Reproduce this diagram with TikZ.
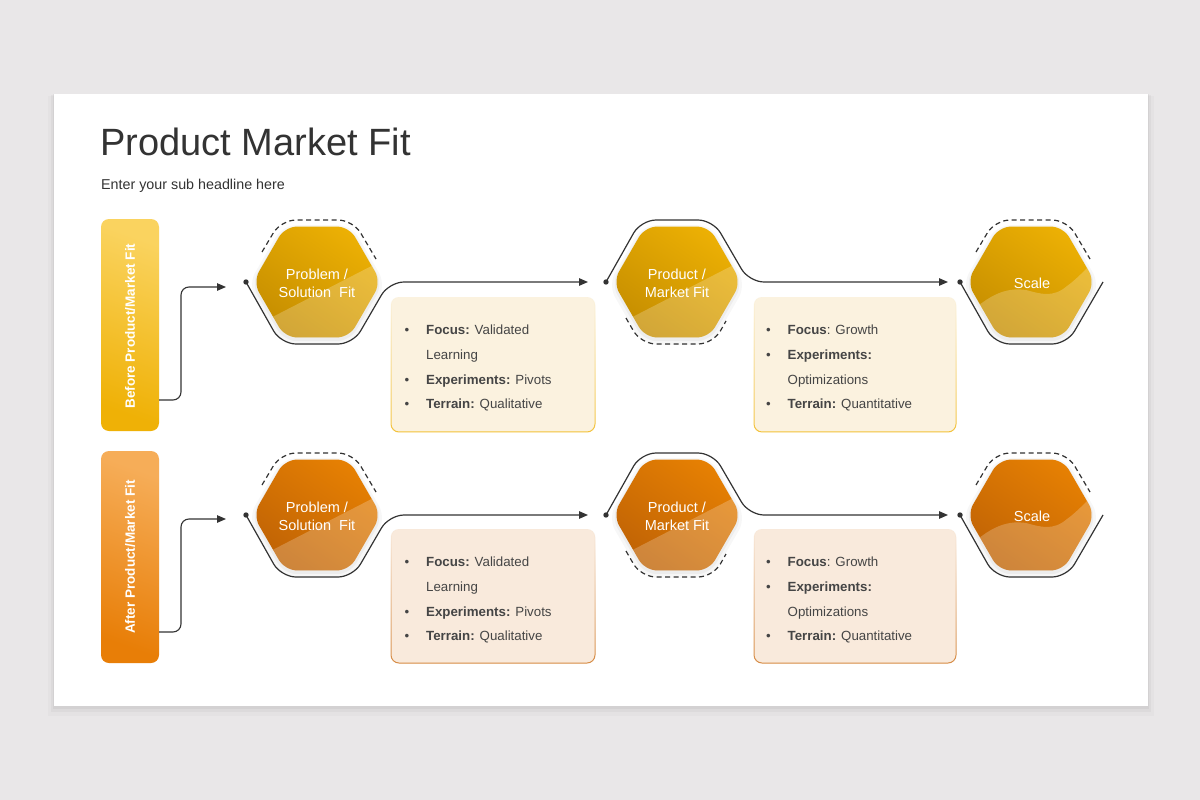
\documentclass[tikz,border=0pt]{standalone}
\usepackage{fontspec}
\setmainfont{Liberation Sans}
\usepackage{xcolor}
\usetikzlibrary{calc}
\usetikzlibrary{positioning}
\usetikzlibrary{arrows.meta}
\usetikzlibrary{fadings}

\definecolor{bggray}{HTML}{E9E7E8}
\definecolor{ink}{HTML}{333333}
\definecolor{txtgray}{HTML}{454545}
\definecolor{goldA}{HTML}{ECB004}
\definecolor{goldB}{HTML}{C68E00}
\definecolor{orgA}{HTML}{E68003}
\definecolor{orgB}{HTML}{C06305}
\definecolor{lblYtop}{HTML}{FAD35F}
\definecolor{lblYbot}{HTML}{EFB106}
\definecolor{lblOtop}{HTML}{F6AD58}
\definecolor{lblObot}{HTML}{E87E07}
\definecolor{creamY}{HTML}{FBF2DF}
\definecolor{creamO}{HTML}{F9EADC}
\definecolor{edgeY}{HTML}{F3C23A}
\definecolor{edgeO}{HTML}{D68A42}

\tikzset{
  hexline/.style={line width=1.2pt, draw=ink, rounded corners=15pt},
  hexdash/.style={hexline, dash pattern=on 5pt off 3.5pt},
  tip/.style={-{Triangle[length=9pt,width=7.5pt]}},
  hextext/.style={text=white, font=\fontsize{14.5}{18}\selectfont, align=center, inner sep=0pt},
  lbltext/.style={text=white, font=\bfseries\fontsize{13.5}{16}\selectfont, inner sep=0pt},
  infotext/.style={text=txtgray, font=\fontsize{13.3}{24.6}\selectfont, align=left, anchor=north west, inner sep=0pt},
  arr/.style={line width=1.1pt, draw=ink, rounded corners=8pt, tip}
}

\newcommand{\hexa}[2]{($(#1)+(-#2,0)$) -- ($(#1)+({-0.5*#2},{-0.866*#2})$) -- ($(#1)+({0.5*#2},{-0.866*#2})$) -- ($(#1)+(#2,0)$) -- ($(#1)+({0.5*#2},{0.866*#2})$) -- ($(#1)+({-0.5*#2},{0.866*#2})$) -- cycle}
\newcommand{\blt}{\makebox[21.5pt][l]{\textbullet}}

\begin{document}
\begin{tikzpicture}[x=1pt,y=-1pt]
	\useasboundingbox (0,0) rectangle (1200,800);
	\fill[bggray] (0,0) rectangle (1200,800);
	% card
	\fill[black,opacity=.02] (48,96) rectangle (1154,716);
	\fill[black,opacity=.03] (51,95) rectangle (1151,712);
	\fill[black,opacity=.04] (53,94) rectangle (1149,709);
	\fill[white] (54,94) rectangle (1148,706);
	\node[anchor=base west, text=ink, font=\fontsize{38}{40}\selectfont, inner sep=0pt] (title) at (100,155) {Product Market Fit};
	\node[anchor=base west, text=ink, font=\fontsize{14.3}{16}\selectfont, inner sep=0pt] (sub) at (101,189) {Enter your sub headline here};
	
	% hexagon centres
	\coordinate (h11) at (317,282);
	\coordinate (h12) at (677,282);
	\coordinate (h13) at (1031,282);
	\coordinate (h21) at (317,515);
	\coordinate (h22) at (677,515);
	\coordinate (h23) at (1031,515);
	
	% side labels
	\shade[rounded corners=8pt, top color=lblYtop, bottom color=lblYbot, shading angle=-20] (101,219) rectangle (159,431);
	\shade[rounded corners=8pt, top color=lblOtop, bottom color=lblObot, shading angle=-20] (101,451) rectangle (159,663);
	\node[lbltext, rotate=90] (before) at (130,326) {Before Product/Market Fit};
	\node[lbltext, rotate=90] (after) at (130,557) {After Product/Market Fit};
	\coordinate (b1) at (159,400);
	\coordinate (b2) at (159,632);
	\coordinate (a11) at (226,287);
	\coordinate (a21) at (226,519);
	\draw[arr] (b1) -- (181,400) -- (181,287) -- (a11);
	\draw[arr] (b2) -- (181,632) -- (181,519) -- (a21);
	
	% info boxes
	\fill[creamY, rounded corners=8pt] (391,297) rectangle (595,432);
	\fill[creamY, rounded corners=8pt] (754,297) rectangle (956,432);
	\fill[creamO, rounded corners=8pt] (391,529) rectangle (595,663);
	\fill[creamO, rounded corners=8pt] (754,529) rectangle (956,663);
	\draw[edgeY, line width=1pt, rounded corners=8pt, path fading=north] (391,297) rectangle (595,432);
	\draw[edgeY, line width=1pt, rounded corners=8pt, path fading=north] (754,297) rectangle (956,432);
	\draw[edgeO, line width=1pt, rounded corners=8pt, path fading=north] (391,529) rectangle (595,663);
	\draw[edgeO, line width=1pt, rounded corners=8pt, path fading=north] (754,529) rectangle (956,663);
	
	% hexagons
	\foreach \c in {h11,h12,h13,h21,h22,h23}{
		\fill[black, opacity=.03, rounded corners=14pt] \hexa{$(\c)+(0,3)$}{69};
		\fill[black, opacity=.04, rounded corners=13pt] \hexa{$(\c)+(0,2)$}{66};}
	\shade[rounded corners=12pt, top color=goldA, bottom color=goldB, shading angle=-35] \hexa{h11}{64};
	\shade[rounded corners=12pt, top color=goldA, bottom color=goldB, shading angle=-35] \hexa{h12}{64};
	\shade[rounded corners=12pt, top color=goldA, bottom color=goldB, shading angle=-35] \hexa{h13}{64};
	\shade[rounded corners=12pt, top color=orgA, bottom color=orgB, shading angle=-35] \hexa{h21}{64};
	\shade[rounded corners=12pt, top color=orgA, bottom color=orgB, shading angle=-35] \hexa{h22}{64};
	\shade[rounded corners=12pt, top color=orgA, bottom color=orgB, shading angle=-35] \hexa{h23}{64};
	\foreach \c in {h11,h12,h21,h22}{
		\begin{scope}
			\clip[rounded corners=12pt] \hexa{\c}{64};
			\fill[white, opacity=.22] ($(\c)+(-62,44)$) -- ($(\c)+(70,-24)$) -- ($(\c)+(70,70)$) -- ($(\c)+(-70,70)$) -- cycle;
		\end{scope}}
	\foreach \c in {h13,h23}{
		\begin{scope}
			\clip[rounded corners=12pt] \hexa{\c}{64};
			\fill[white, opacity=.22] ($(\c)+(-75,45)$) .. controls ($(\c)+(-45,12)$) and ($(\c)+(-25,5)$) .. ($(\c)+(-5,8)$) .. controls ($(\c)+(10,12)$) and ($(\c)+(22,16)$) .. ($(\c)+(36,4)$) .. controls ($(\c)+(50,-6)$) and ($(\c)+(60,-20)$) .. ($(\c)+(75,-30)$) -- ($(\c)+(75,70)$) -- ($(\c)+(-75,70)$) -- cycle;
		\end{scope}}
	
	\node[hextext] (p11) at (317,283) {Problem /\\Solution\ \ Fit};
	\node[hextext] (p12) at (677,283) {Product /\\Market Fit};
	\node[hextext] (p13) at (1032,283) {Scale};
	\node[hextext] (p21) at (317,516) {Problem /\\Solution\ \ Fit};
	\node[hextext] (p22) at (677,516) {Product /\\Market Fit};
	\node[hextext] (p23) at (1032,516) {Scale};
	
	% outlines and connectors
	\coordinate (a12) at (588,282);
	\coordinate (a13) at (948,282);
	\coordinate (a22) at (588,515);
	\coordinate (a23) at (948,515);
	\foreach \c in {h11,h13,h21,h23}
		\draw[hexdash] ($(\c)+(-55,-30)$) -- ($(\c)+(-36,-62)$) -- ($(\c)+(36,-62)$) -- ($(\c)+(59,-23)$);
	\foreach \c in {h12,h22}
		\draw[hexdash] ($(\c)+(-51,36)$) -- ($(\c)+(-36,62)$) -- ($(\c)+(36,62)$) -- ($(\c)+(49,39)$);
	\draw[hexline, tip] ($(h11)+(-71,0)$) -- ($(h11)+(-36,62)$) -- ($(h11)+(36,62)$) -- ($(h11)+(72,0)$) -- (a12);
	\draw[hexline, tip] ($(h12)+(-71,0)$) -- ($(h12)+(-36,-62)$) -- ($(h12)+(36,-62)$) -- ($(h12)+(72,0)$) -- (a13);
	\draw[hexline] ($(h13)+(-71,0)$) -- ($(h13)+(-36,62)$) -- ($(h13)+(36,62)$) -- ($(h13)+(72,0)$);
	\draw[hexline, tip] ($(h21)+(-71,0)$) -- ($(h21)+(-36,62)$) -- ($(h21)+(36,62)$) -- ($(h21)+(72,0)$) -- (a22);
	\draw[hexline, tip] ($(h22)+(-71,0)$) -- ($(h22)+(-36,-62)$) -- ($(h22)+(36,-62)$) -- ($(h22)+(72,0)$) -- (a23);
	\draw[hexline] ($(h23)+(-71,0)$) -- ($(h23)+(-36,62)$) -- ($(h23)+(36,62)$) -- ($(h23)+(72,0)$);
	\foreach \c in {h11,h12,h13,h21,h22,h23}
		\fill[ink] ($(\c)+(-71,0)$) circle (2.7pt);
	
	% bullet texts
	\node[infotext] (t11) at (404.5,325) {\blt\textbf{Focus:} Validated\\\hspace*{21.5pt}Learning\\\blt\textbf{Experiments:} Pivots\\\blt\textbf{Terrain:} Qualitative};
	\node[infotext] (t12) at (766,325) {\blt\textbf{Focus}: Growth\\\blt\textbf{Experiments:}\\\hspace*{21.5pt}Optimizations\\\blt\textbf{Terrain:} Quantitative};
	\node[infotext] (t21) at (404.5,557) {\blt\textbf{Focus:} Validated\\\hspace*{21.5pt}Learning\\\blt\textbf{Experiments:} Pivots\\\blt\textbf{Terrain:} Qualitative};
	\node[infotext] (t22) at (766,557) {\blt\textbf{Focus}: Growth\\\blt\textbf{Experiments:}\\\hspace*{21.5pt}Optimizations\\\blt\textbf{Terrain:} Quantitative};
\end{tikzpicture}
\end{document}
